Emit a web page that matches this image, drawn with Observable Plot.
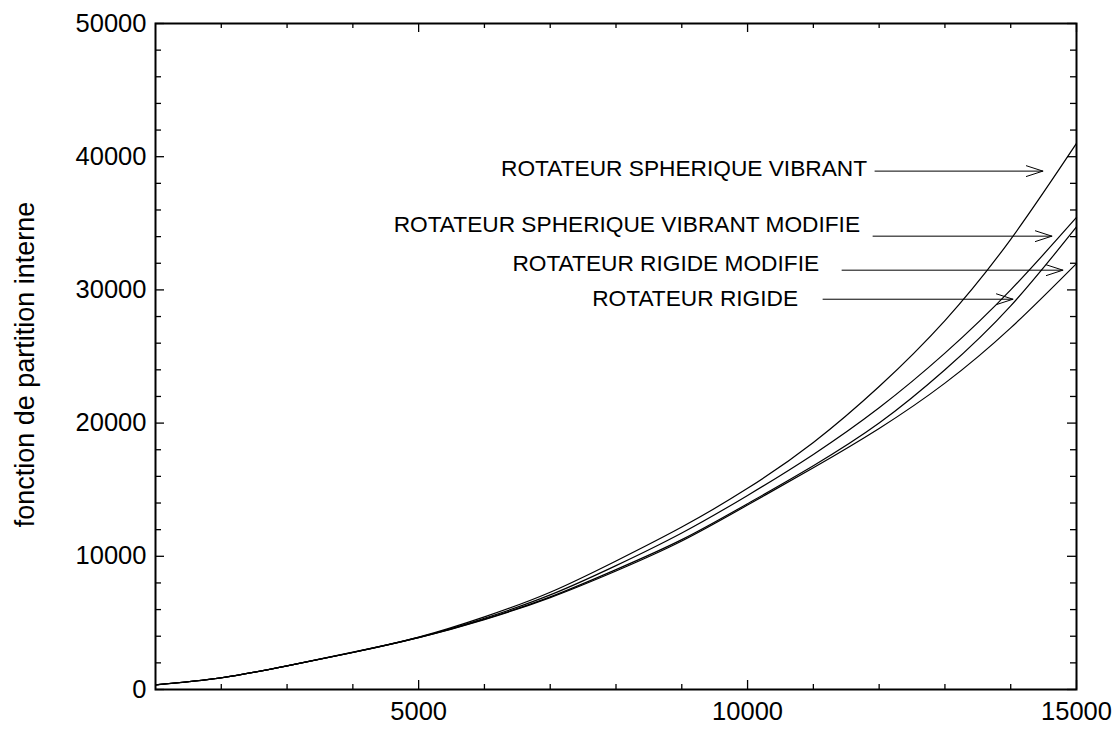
<!DOCTYPE html>
<html><head><meta charset="utf-8">
<script src="https://cdn.jsdelivr.net/npm/d3@7"></script>
<script src="https://cdn.jsdelivr.net/npm/@observablehq/plot@0.6"></script>
<style>body{margin:0;background:#fff}</style>
</head><body><div id="chart"></div>
<script>
// Temperature grid (x) and the four partition-function series (y)
const temperature = [1000, 2000, 3000, 4000, 5000, 6000, 7000, 8000, 9000, 10000, 11000, 12000, 13000, 14000, 15000];
const rotSphVibrant    = [350, 880, 1780, 2800, 3930, 5450, 7300, 9650, 12200, 15100, 18550, 22750, 27700, 33800, 41000];
const rotSphVibrantMod = [350, 880, 1780, 2790, 3910, 5350, 7100, 9300, 11750, 14570, 17650, 21150, 25250, 30000, 35440];
const rotRigideMod     = [350, 875, 1770, 2780, 3890, 5280, 6950, 9000, 11250, 13950, 16800, 20000, 24000, 28800, 34730];
const rotRigide        = [350, 875, 1770, 2780, 3890, 5250, 6900, 8900, 11150, 13850, 16650, 19600, 23000, 27150, 31980];

// Annotations (data units)
const labelText = ["ROTATEUR SPHERIQUE VIBRANT", "ROTATEUR SPHERIQUE VIBRANT MODIFIE", "ROTATEUR RIGIDE MODIFIE", "ROTATEUR RIGIDE"];
const labelX = [11816, 11710, 11087, 10768];
const labelY = [39068, 34860, 31930, 29300];
const arrowX1 = [11937, 11907, 11436, 11147];
const arrowX2 = [14489, 14626, 14793, 14034];
const arrowY  = [38918, 34034, 31480, 29300];

// Axis ticks
const xMajor = [5000, 10000, 15000];
const xMinor = [2000, 3000, 4000, 6000, 7000, 8000, 9000, 11000, 12000, 13000, 14000];
const yMajor = [0, 10000, 20000, 30000, 40000, 50000];
const yMinor = [2000, 4000, 6000, 8000, 12000, 14000, 16000, 18000, 22000, 24000, 26000, 28000, 32000, 34000, 36000, 38000, 42000, 44000, 46000, 48000];
const yTitle = "fonction de partition interne";

const W = 1117, H = 733, mL = 155, mR = 41, mT = 23, mB = 44;
const iW = W - mL - mR, iH = H - mT - mB;

const seriesList = [rotSphVibrant, rotSphVibrantMod, rotRigideMod, rotRigide];
const rows = [];
seriesList.forEach((s, k) => temperature.forEach((t, i) => rows.push({t, v: s[i], k})));
const ann = labelText.map((text, i) => ({text, x: labelX[i], y: labelY[i], x1: arrowX1[i], x2: arrowX2[i], ya: arrowY[i]}));

const chart = Plot.plot({
  width: W, height: H,
  marginLeft: mL, marginRight: mR, marginTop: mT, marginBottom: mB,
  style: {fontFamily: "'Liberation Sans', Arial, sans-serif", fontSize: "25px", color: "black", background: "white"},
  x: {domain: [1000, 15000]},
  y: {domain: [0, 50000]},
  marks: [
    Plot.line(rows, {x: "t", y: "v", z: "k", stroke: "black", strokeWidth: 1.2, curve: "natural"}),
    // inward ticks
    Plot.ruleX(xMinor, {insetTop: iH - 5, stroke: "black", strokeWidth: 1.3}),
    Plot.ruleX(xMinor, {insetBottom: iH - 5, stroke: "black", strokeWidth: 1.3}),
    Plot.ruleX(xMajor, {insetTop: iH - 9, stroke: "black", strokeWidth: 1.3}),
    Plot.ruleX(xMajor, {insetBottom: iH - 9, stroke: "black", strokeWidth: 1.3}),
    Plot.ruleY(yMinor, {insetRight: iW - 6, stroke: "black", strokeWidth: 1.3}),
    Plot.ruleY(yMinor, {insetLeft: iW - 6, stroke: "black", strokeWidth: 1.3}),
    Plot.ruleY(yMajor, {insetRight: iW - 9, stroke: "black", strokeWidth: 1.3}),
    Plot.ruleY(yMajor, {insetLeft: iW - 9, stroke: "black", strokeWidth: 1.3}),
    Plot.frame({stroke: "black", strokeWidth: 2}),
    Plot.axisX({ticks: xMajor, tickSize: 0, tickPadding: 12, label: null, tickFormat: d3.format("d"), fontSize: 25.5}),
    Plot.axisY({ticks: yMajor, tickSize: 0, tickPadding: 9, label: null, tickFormat: d3.format("d"), fontSize: 25.5}),
    Plot.text([yTitle], {frameAnchor: "left", textAnchor: "middle", rotate: -90, dx: -130, dy: 8, fontSize: 27, fill: "black"}),
    Plot.text(ann, {x: "x", y: "y", text: "text", textAnchor: "end", fontSize: 22.7, fill: "black"}),
    Plot.arrow(ann, {x1: "x1", x2: "x2", y1: "ya", y2: "ya", stroke: "black", strokeWidth: 1, headLength: 26, headAngle: 36})
  ]
});
document.getElementById("chart").appendChild(chart);
</script>
</body></html>
